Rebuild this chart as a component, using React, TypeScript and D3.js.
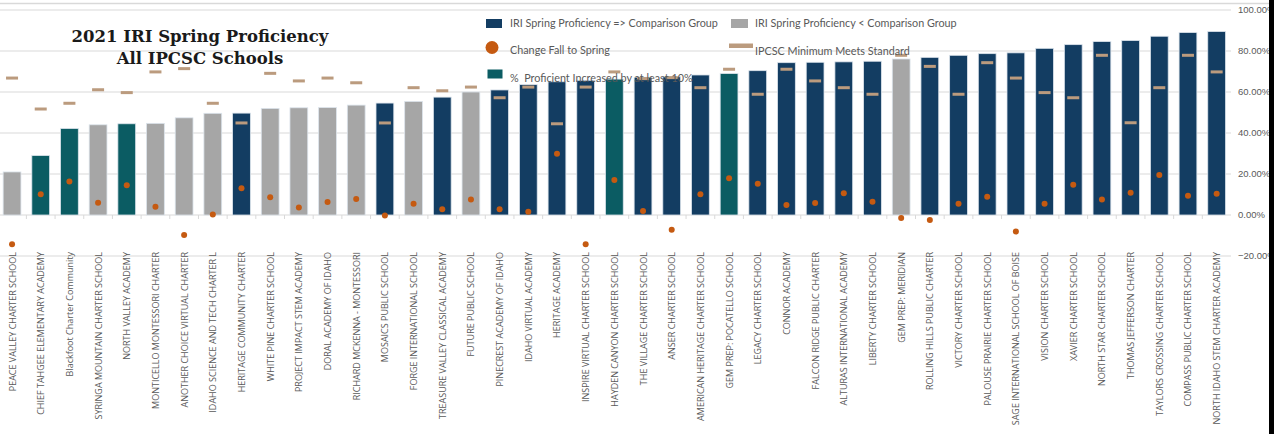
import React from 'react';
import * as d3 from 'd3';

const schools = [
  'PEACE VALLEY CHARTER SCHOOL', 'CHIEF TAHGEE ELEMENTARY ACADEMY', 'Blackfoot Charter Community',
  'SYRINGA MOUNTAIN CHARTER SCHOOL', 'NORTH VALLEY ACADEMY', 'MONTICELLO MONTESSORI CHARTER',
  'ANOTHER CHOICE VIRTUAL CHARTER', 'IDAHO SCIENCE AND TECH CHARTER L', 'HERITAGE COMMUNITY CHARTER',
  'WHITE PINE CHARTER SCHOOL', 'PROJECT IMPACT STEM ACADEMY', 'DORAL ACADEMY OF IDAHO',
  'RICHARD MCKENNA - MONTESSORI', 'MOSAICS PUBLIC SCHOOL', 'FORGE INTERNATIONAL SCHOOL',
  'TREASURE VALLEY CLASSICAL ACADEMY', 'FUTURE PUBLIC SCHOOL', 'PINECREST ACADEMY OF IDAHO',
  'IDAHO VIRTUAL ACADEMY', 'HERITAGE ACADEMY', 'INSPIRE VIRTUAL CHARTER SCHOOL',
  'HAYDEN CANYON CHARTER SCHOOL', 'THE VILLAGE CHARTER SCHOOL', 'ANSER CHARTER SCHOOL',
  'AMERICAN HERITAGE CHARTER SCHOOL', 'GEM PREP: POCATELLO SCHOOL', 'LEGACY CHARTER SCHOOL',
  'CONNOR ACADEMY', 'FALCON RIDGE PUBLIC CHARTER', 'ALTURAS INTERNATIONAL ACADEMY',
  'LIBERTY CHARTER SCHOOL', 'GEM PREP: MERIDIAN', 'ROLLING HILLS PUBLIC CHARTER',
  'VICTORY CHARTER SCHOOL', 'PALOUSE PRAIRIE CHARTER SCHOOL', 'SAGE INTERNATIONAL SCHOOL OF BOISE',
  'VISION CHARTER SCHOOL', 'XAVIER CHARTER SCHOOL', 'NORTH STAR CHARTER SCHOOL',
  'THOMAS JEFFERSON CHARTER', 'TAYLORS CROSSING CHARTER SCHOOL', 'COMPASS PUBLIC CHARTER SCHOOL',
  'NORTH IDAHO STEM CHARTER ACADEMY',
];

// spring proficiency (%)
const spring = [
  21, 29, 42.2, 44, 44.5, 44.7, 47.4, 49.6, 49.7, 52, 52.3, 52.4, 53.6, 54.6, 55.4,
  57.5, 60, 61, 63.6, 65, 65.7, 66.3, 67.2, 67.4, 68.3, 69, 70.4, 74.3, 74.5, 74.7,
  75, 76.1, 76.9, 77.9, 78.7, 79.1, 81.3, 83.1, 84.6, 85.1, 87.2, 89, 89.5,
];

// 'above' = >= comparison group, 'below' = < comparison group, 'up10' = increased 10%+
const group = [
  'below', 'up10', 'up10', 'below', 'up10', 'below', 'below', 'below', 'above', 'below',
  'below', 'below', 'below', 'above', 'below', 'above', 'below', 'above', 'above', 'above',
  'above', 'up10', 'above', 'above', 'above', 'up10', 'above', 'above', 'above', 'above',
  'above', 'below', 'above', 'above', 'above', 'above', 'above', 'above', 'above', 'above',
  'above', 'above', 'above',
];

const minStandard = [
  66.8, 51.7, 54.5, 61.1, 59.7, 69.8, 71.4, 54.5, 44.9, 69.1, 65.4, 66.8, 64.5, 44.9, 62.1,
  60.6, 62.4, 57.2, 62.4, 44.5, 62.4, 69.8, 66.5, 67, 62.1, 71.1, 58.9, 71.1, 65.4, 62.1,
  58.9, 77.9, 72.5, 58.9, 74.3, 66.8, 59.7, 57.2, 77.9, 45, 62.1, 77.9, 69.8,
];

const changeFallSpring = [
  -14.3, 10.1, 16.4, 6.0, 14.5, 4.0, -9.8, 0.3, 13.0, 8.6, 3.6, 6.3, 7.8, -0.3, 5.5,
  2.8, 7.6, 2.8, 1.6, 29.9, -14.3, 17.1, 2.0, -7.2, 10.1, 17.9, 15.3, 4.9, 5.9, 10.6,
  6.5, -1.5, -2.4, 5.5, 8.9, -8.1, 5.5, 14.8, 7.6, 10.9, 19.5, 9.4, 10.4,
];

const yTicks = [-20, 0, 20, 40, 60, 80, 100];

const colors: Record<string, string> = {
  above: '#133d62',
  below: '#a6a6a6',
  up10: '#0b5c63',
};
const ORANGE = '#c55a11';
const TAN = '#bb9b7e';
const AXIS_TEXT = '#595959';
const GRID = '#d9d9d9';

const W = 1274;
const H = 434;

export default function App() {
  const x = d3.scaleBand<string>().domain(schools).range([-2.3, 1231]).padding(0);
  const y = d3.scaleLinear().domain([-20, 100]).range([256, 10]);
  const bw = x.bandwidth() * 0.62;
  const cx = (i: number) => (x(schools[i]) ?? 0) + x.bandwidth() / 2;

  return (
    <svg
      width={W}
      height={H}
      style={{ position: 'absolute', left: 0, top: 0, background: '#fff' }}
      fontFamily="'Open Sans', 'Liberation Sans', sans-serif"
    >
      {/* top edge line */}
      <line x1={0} x2={W} y1={3.5} y2={3.5} stroke={GRID} strokeWidth={1.5} />

      {/* gridlines */}
      {yTicks.map((t) => (
        <g key={t}>
          <line x1={0} x2={1231} y1={y(t)} y2={y(t)} stroke={GRID} strokeWidth={1.2} />
          <text
            x={1238}
            y={y(t)}
            dy="0.35em"
            fontSize={9.5}
            fill={AXIS_TEXT}
            fontFamily="'Liberation Sans', sans-serif"
          >
            {d3.format('.2f')(t)}%
          </text>
        </g>
      ))}

      {/* category ticks on the 0 line */}
      {schools.map((s) => (
        <line key={s} x1={x(s)} x2={x(s)} y1={y(0)} y2={y(0) + 4} stroke={GRID} />
      ))}

      {/* bars */}
      {schools.map((s, i) => (
        <rect
          key={s}
          x={cx(i) - bw / 2}
          y={y(spring[i])}
          width={bw}
          height={y(0) - y(spring[i])}
          fill={colors[group[i]]}
          stroke="#dce4ec"
          strokeWidth={0.8}
        />
      ))}

      {/* minimum meets standard */}
      {schools.map((s, i) => (
        <rect key={s} x={cx(i) - 6} y={y(minStandard[i]) - 1.5} width={12} height={3} fill={TAN} />
      ))}

      {/* change fall to spring */}
      {schools.map((s, i) => (
        <circle key={s} cx={cx(i)} cy={y(changeFallSpring[i])} r={3} fill={ORANGE} />
      ))}

      {/* x labels */}
      {schools.map((s, i) => (
        <text
          key={s}
          transform={`translate(${cx(i)},252) rotate(-90)`}
          textAnchor="end"
          dominantBaseline="central"
          fontSize={9}
          fill={AXIS_TEXT}
        >
          {s}
        </text>
      ))}

      {/* title */}
      <g fontFamily="'DejaVu Serif', serif" fontWeight="bold" fontSize={16.5} fill="#1a1a1a" textAnchor="middle">
        <text x={200} y={42}>2021 IRI Spring Proficiency</text>
        <text x={200} y={64}>All IPCSC Schools</text>
      </g>

      {/* legend */}
      <g fontSize={10.8} fill={AXIS_TEXT} fontFamily="Lato, 'Open Sans', sans-serif">
        <rect x={486} y={19} width={16} height={9} fill={colors.above} />
        <text x={510} y={27}>IRI Spring Proficiency =&gt; Comparison Group</text>
        <rect x={731} y={19} width={17} height={9} fill={colors.below} />
        <text x={755} y={27}>IRI Spring Proficiency &lt; Comparison Group</text>

        <circle cx={492} cy={47.5} r={6.5} fill={ORANGE} />
        <text x={510} y={54}>Change Fall to Spring</text>
        <rect x={729} y={43.5} width={24} height={4.5} fill={TAN} />
        <text x={755} y={55}>IPCSC Minimum Meets Standard</text>

        <rect x={487.5} y={69.5} width={15} height={9} fill={colors.up10} />
        <text x={510} y={81.5} xmlSpace="preserve">%  Proficient Increased by at least 10%</text>
      </g>

      {/* right border */}
      <rect x={1269} y={0} width={5} height={H} fill="#000" />
    </svg>
  );
}
